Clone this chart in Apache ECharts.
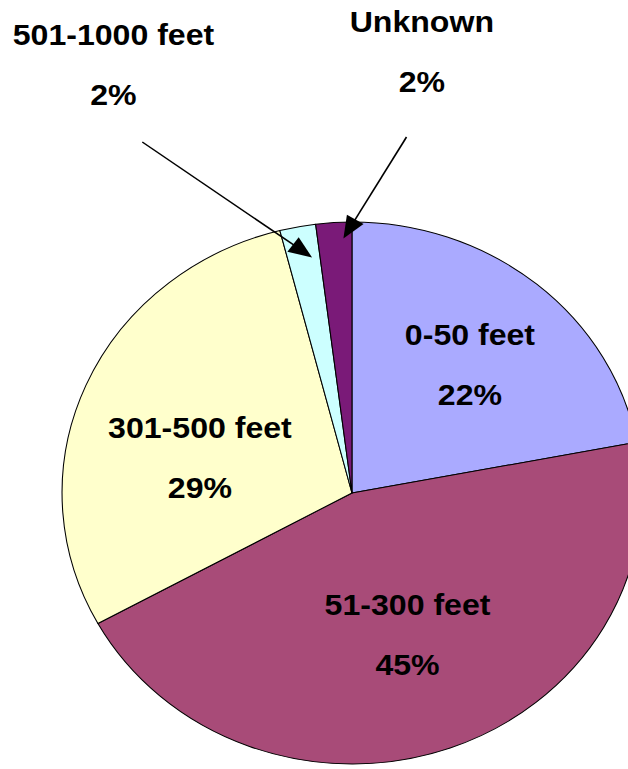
<!DOCTYPE html>
<html>
<head>
<meta charset="utf-8">
<script src="https://cdn.jsdelivr.net/npm/echarts@6/dist/echarts.min.js"></script>
<style>
html, body { margin: 0; padding: 0; overflow: hidden; background: #ffffff; width: 628px; height: 769px; }
#chart { width: 587px; height: 769px; transform: scaleX(1.0698); transform-origin: 0 0; }
</style>
</head>
<body>
<div id="chart"></div>
<script>
// ---- data ----
const categories = ['0-50 feet', '51-300 feet', '301-500 feet', '501-1000 feet', 'Unknown'];
const percentValues = [22, 45, 29, 2, 2];
const sliceColors = ['#AAAAFF', '#A84B78', '#FFFFCC', '#CCFFFF', '#7A1A78'];

// ---- layout (positions / styles, not data) ----
const PIE_CENTER = [329, 493];
const PIE_RADIUS = 271;
const labelOffsets = [[22, -21], [5, 12], [-15, 20], [-197, -292], [74, -303]];
const arrowTails = { 3: [133, 142], 4: [380, 137] };
const arrowTipRadius = { 3: 0.88, 4: 0.94 };
const ARROW_ANGLE_FRAC = 0.75;
const ARROW_HEAD_LEN = 22;
const ARROW_HEAD_HALF = 9;

const chart = echarts.init(document.getElementById('chart'), null, { renderer: 'svg' });

const seriesData = categories.map((name, i) => ({
  name: name,
  value: percentValues[i],
  itemStyle: { color: sliceColors[i] },
  label: { offset: labelOffsets[i] }
}));

chart.setOption({
  backgroundColor: '#ffffff',
  animation: false,
  series: [{
    type: 'pie',
    center: PIE_CENTER,
    radius: PIE_RADIUS,
    startAngle: 90,
    clockwise: true,
    avoidLabelOverlap: false,
    data: seriesData,
    itemStyle: { borderColor: '#000000', borderWidth: 1 },
    label: {
      show: true,
      position: 'inside',
      formatter: '{b}\n\n{c}%',
      fontFamily: '"Liberation Sans", Arial, sans-serif',
      fontWeight: 'bold',
      fontSize: 30,
      lineHeight: 30,
      color: '#000000',
      align: 'center',
      verticalAlign: 'middle'
    },
    labelLine: { show: false },
    emphasis: { disabled: true }
  }]
});

// arrows from the outside labels into the small slices, tips taken from the pie layout
function buildArrows() {
  const graphics = [];
  let data = null;
  try { data = chart.getModel().getSeriesByIndex(0).getData(); } catch (e) { data = null; }
  Object.keys(arrowTails).forEach(key => {
    const i = +key;
    let cx, cy, r, a;
    if (data && data.getItemLayout(i)) {
      const lay = data.getItemLayout(i);
      cx = lay.cx; cy = lay.cy; r = lay.r;
      a = lay.startAngle + (lay.endAngle - lay.startAngle) * ARROW_ANGLE_FRAC;
    } else {
      const total = percentValues.reduce((s, v) => s + v, 0);
      const before = percentValues.slice(0, i).reduce((s, v) => s + v, 0);
      cx = PIE_CENTER[0]; cy = PIE_CENTER[1]; r = PIE_RADIUS;
      a = -Math.PI / 2 + 2 * Math.PI * (before + percentValues[i] * ARROW_ANGLE_FRAC) / total;
    }
    const tip = [cx + r * arrowTipRadius[i] * Math.cos(a), cy + r * arrowTipRadius[i] * Math.sin(a)];
    const tail = arrowTails[i];
    const dx = tip[0] - tail[0], dy = tip[1] - tail[1];
    const len = Math.sqrt(dx * dx + dy * dy);
    const ux = dx / len, uy = dy / len;
    const bx = tip[0] - ux * ARROW_HEAD_LEN, by = tip[1] - uy * ARROW_HEAD_LEN;
    const nx = -uy, ny = ux;
    graphics.push({
      type: 'line', z: 100,
      shape: { x1: tail[0], y1: tail[1], x2: bx + ux * 2, y2: by + uy * 2 },
      style: { stroke: '#000000', lineWidth: 1.5 }
    });
    graphics.push({
      type: 'polygon', z: 101,
      shape: { points: [tip, [bx + nx * ARROW_HEAD_HALF, by + ny * ARROW_HEAD_HALF], [bx - nx * ARROW_HEAD_HALF, by - ny * ARROW_HEAD_HALF]] },
      style: { fill: '#000000' }
    });
  });
  chart.setOption({ graphic: graphics });
}
buildArrows();
</script>
</body>
</html>
